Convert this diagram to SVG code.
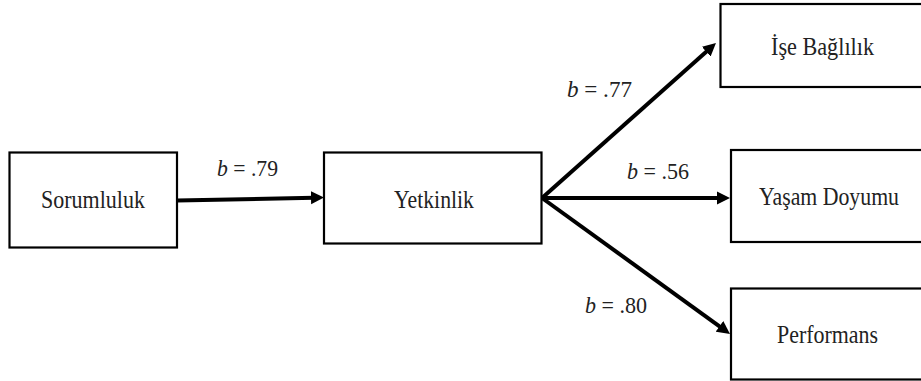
<svg xmlns="http://www.w3.org/2000/svg" width="921" height="381" viewBox="0 0 921 381">
<style>
.box{fill:#fff;stroke:#000;stroke-width:2.2}
.t{font-family:"Liberation Serif","Times New Roman",serif;font-size:26px;fill:#222}
.lb{font-family:"Liberation Serif","Times New Roman",serif;font-size:24px;fill:#222}
.c{fill:none;stroke:#000;stroke-width:4}
</style>
<defs>
<marker id="ah" markerUnits="userSpaceOnUse" markerWidth="14" markerHeight="14" refX="3" refY="7" orient="auto" viewBox="0 0 14 14">
<path d="M0,0.5 L13,7 L0,13.5 z" fill="#000"/>
</marker>
</defs>
<rect width="921" height="381" fill="#fff"/>
<g id="connectors">
<path class="c" d="M177,200.5 L314,197.7" marker-end="url(#ah)"/>
<path class="c" d="M542,198 L708.5,49.7" marker-end="url(#ah)"/>
<path class="c" d="M542,198 L720,198" marker-end="url(#ah)"/>
<path class="c" d="M542,198 L721.9,328.1" marker-end="url(#ah)"/>
</g>
<g id="labels">
<text class="lb" x="217" y="175.5" textLength="61" lengthAdjust="spacingAndGlyphs"><tspan font-style="italic">b</tspan> = .79</text>
<text class="lb" x="567" y="96.5" textLength="65" lengthAdjust="spacingAndGlyphs"><tspan font-style="italic">b</tspan> = .77</text>
<text class="lb" x="627" y="179.3" textLength="62" lengthAdjust="spacingAndGlyphs"><tspan font-style="italic">b</tspan> = .56</text>
<text class="lb" x="585" y="312.7" textLength="62" lengthAdjust="spacingAndGlyphs"><tspan font-style="italic">b</tspan> = .80</text>
</g>
<g id="sorumluluk">
<rect class="box" x="9.5" y="152.5" width="167.5" height="95"/>
<text class="t" x="41" y="208" textLength="104" lengthAdjust="spacingAndGlyphs">Sorumluluk</text>
</g>
<g id="yetkinlik">
<rect class="box" x="324" y="152.5" width="217.5" height="91"/>
<text class="t" x="394" y="207.7" textLength="80" lengthAdjust="spacingAndGlyphs">Yetkinlik</text>
</g>
<g id="ise-baglilik">
<rect class="box" x="720.5" y="4" width="215" height="83"/>
<text class="t" x="771" y="55" textLength="103" lengthAdjust="spacingAndGlyphs">İşe Bağlılık</text>
</g>
<g id="yasam-doyumu">
<rect class="box" x="731" y="150" width="205" height="92"/>
<text class="t" x="759" y="205" textLength="140" lengthAdjust="spacingAndGlyphs">Yaşam Doyumu</text>
</g>
<g id="performans">
<rect class="box" x="731" y="288.5" width="205" height="91"/>
<text class="t" x="777" y="343" textLength="101" lengthAdjust="spacingAndGlyphs">Performans</text>
</g>
</svg>
